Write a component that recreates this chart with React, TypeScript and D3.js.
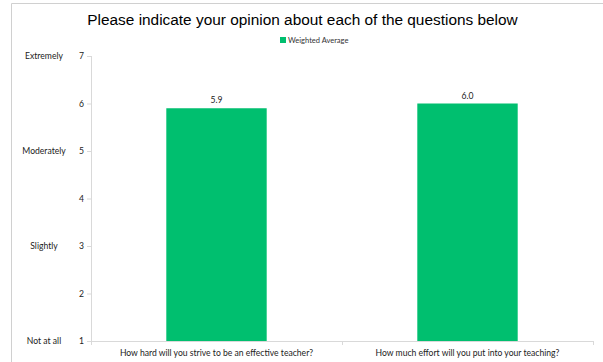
import React from "react";
import * as d3 from "d3";

const categories = [
  "How hard will you strive to be an effective teacher?",
  "How much effort will you put into your teaching?",
];
const values = [5.9, 6.0];
const seriesName = "Weighted Average";
const yTicks = [1, 2, 3, 4, 5, 6, 7];
const scaleLabels = [
  { v: 7, label: "Extremely" },
  { v: 5, label: "Moderately" },
  { v: 3, label: "Slightly" },
  { v: 1, label: "Not at all" },
];
const title = "Please indicate your opinion about each of the questions below";

export default function App() {
  const W = 603, H = 362;
  const left = 91, right = 593, top = 56, bottom = 341;
  const x = d3.scaleBand<string>().domain(categories).range([left, right]).paddingInner(0.6).paddingOuter(0.3);
  const y = d3.scaleLinear().domain([1, 7]).range([bottom, top]);
  const green = "#00BF6F";
  const axis = "#d9d9d9";
  const font = "Lato, 'Open Sans', sans-serif";
  const fs = 8.6;
  const boundaries = d3.range(categories.length + 1).map((i) => left + i * ((right - left) / categories.length));
  return (
    <svg width={W} height={H} style={{ position: "absolute", left: 0, top: 0, background: "#fff" }}>
      <path d={`M11.5,${H}V3.5H${W}`} fill="none" stroke="#d0d0d0" strokeWidth={1} />
      <text x={302.5} y={25} textAnchor="middle" fontFamily="'Liberation Sans', Arial, sans-serif" fontSize={15.4} fill="#000">
        {title}
      </text>
      <rect x={280} y={37} width={6} height={6} fill={green} />
      <text x={288} y={43} fontFamily={font} fontSize={7.5} fill="#333">{seriesName}</text>
      <line x1={left + 0.5} x2={left + 0.5} y1={top} y2={bottom} stroke={axis} />
      {yTicks.map((t) => (
        <g key={t}>
          <line x1={left - 4} x2={left} y1={y(t) + 0.5} y2={y(t) + 0.5} stroke={axis} />
          <text x={84} y={y(t) + 3} textAnchor="end" fontFamily={font} fontSize={fs} fill="#222">{t}</text>
        </g>
      ))}
      {scaleLabels.map((s) => (
        <text key={s.label} x={44} y={y(s.v) + 3} textAnchor="middle" fontFamily={font} fontSize={fs} fill="#222">{s.label}</text>
      ))}
      <line x1={left} x2={right} y1={bottom + 0.5} y2={bottom + 0.5} stroke={axis} />
      {boundaries.map((b, i) => (
        <line key={i} x1={b + 0.5} x2={b + 0.5} y1={bottom} y2={bottom + 4} stroke={axis} />
      ))}
      {categories.map((c, i) => {
        const bx = x(c)!;
        const bw = x.bandwidth();
        return (
          <g key={c}>
            <rect x={bx} y={y(values[i])} width={bw} height={bottom - y(values[i])} fill={green} />
            <text x={bx + bw / 2} y={y(values[i]) - 5} textAnchor="middle" fontFamily={font} fontSize={fs} fill="#222">
              {values[i].toFixed(1)}
            </text>
            <text x={bx + bw / 2} y={bottom + 15} textAnchor="middle" fontFamily={font} fontSize={fs} fill="#222">{c}</text>
          </g>
        );
      })}
    </svg>
  );
}
